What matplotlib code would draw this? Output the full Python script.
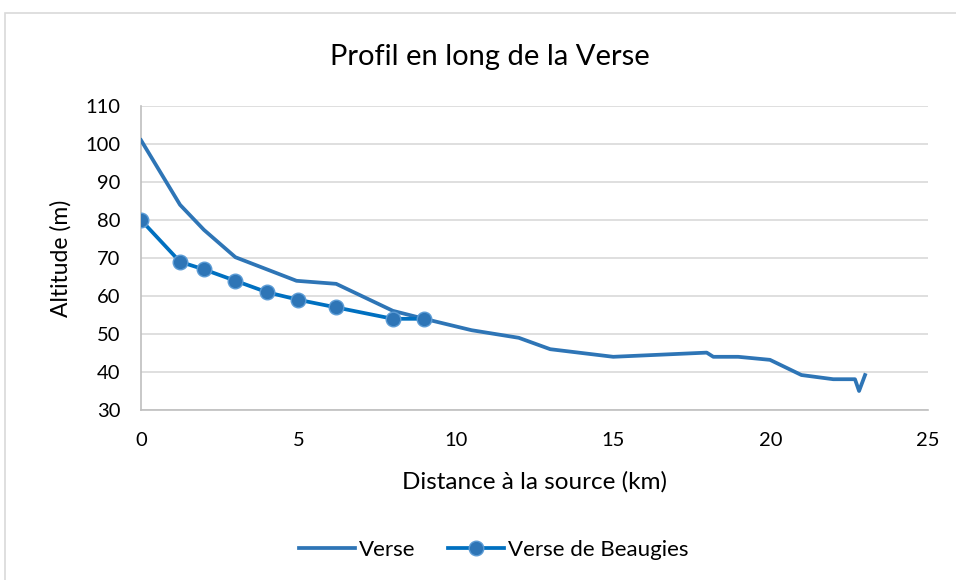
import matplotlib.pyplot as plt
from matplotlib.patches import Rectangle

plt.rcParams['font.family'] = ['Lato', 'DejaVu Sans']

# Verse main course
verse_x = [0, 1.24, 2, 3, 4.94, 6.2, 8, 9, 10.5, 12, 13, 15, 17.97, 18.18, 18.97, 19.98, 20.98, 21.99, 22.68, 22.81, 23.0]
verse_y = [101, 84, 77.4, 70.2, 64, 63.2, 56.1, 54, 51, 49, 46, 44, 45.1, 44, 44, 43.2, 39.2, 38.1, 38.1, 35, 39.2]

# Verse de Beaugies tributary
beaugies_x = [0, 1.24, 2, 3, 4, 5, 6.2, 8, 9]
beaugies_y = [80, 69, 67, 64, 61, 59, 57, 54, 54]

fig = plt.figure(figsize=(9.56, 5.8), dpi=100)
ax = fig.add_axes([141 / 956, 170 / 580, 787 / 956, 304 / 580])

# light frame around chart area (right/bottom edges fall outside the image)
fig.patches.append(Rectangle((5 / 956, -0.1), 1.2, 1.1 - 13 / 580, transform=fig.transFigure,
                             fill=False, edgecolor='#d9d9d9', linewidth=1.2))

ax.plot(verse_x, verse_y, color='#2e75b6', linewidth=2.7, label='Verse', zorder=3)
ax.plot(beaugies_x, beaugies_y, color='#0070c0', linewidth=2.7, marker='o', markersize=10.5,
        markerfacecolor='#2e75b6', markeredgecolor='#5b9bd5', markeredgewidth=1,
        label='Verse de Beaugies', zorder=4)

ax.set_xlim(0, 25)
ax.set_ylim(30, 110)
ax.set_xticks(range(0, 26, 5))
ax.set_yticks(range(30, 111, 10))
ax.grid(axis='y', color='#d9d9d9', linewidth=1.2)
ax.set_axisbelow(True)
for s in ['top', 'right']:
    ax.spines[s].set_visible(False)
ax.spines['left'].set_color('#bfbfbf')
ax.spines['bottom'].set_color('#bfbfbf')
ax.spines['left'].set_linewidth(1.2)
ax.spines['bottom'].set_linewidth(1.2)
ax.tick_params(length=0, labelsize=14.5, colors='black')
ax.tick_params(axis='y', pad=15)
ax.tick_params(axis='x', pad=16)

fig.text(490 / 956, 1 - 57 / 580, 'Profil en long de la Verse', fontsize=21,
         ha='center', va='center')
ax.set_xlabel('Distance à la source (km)', fontsize=17.5)
ax.xaxis.set_label_coords(0.5, -0.2)
ax.set_ylabel('Altitude (m)', fontsize=16.5)
ax.yaxis.set_label_coords(-0.088, 0.5)

fig.legend(loc='center', bbox_to_anchor=(494 / 956, 1 - 550 / 580), ncol=2, frameon=False,
           fontsize=16, handlelength=2.5, columnspacing=1.45, handletextpad=0.2)

fig.savefig('out.png', dpi=100)
